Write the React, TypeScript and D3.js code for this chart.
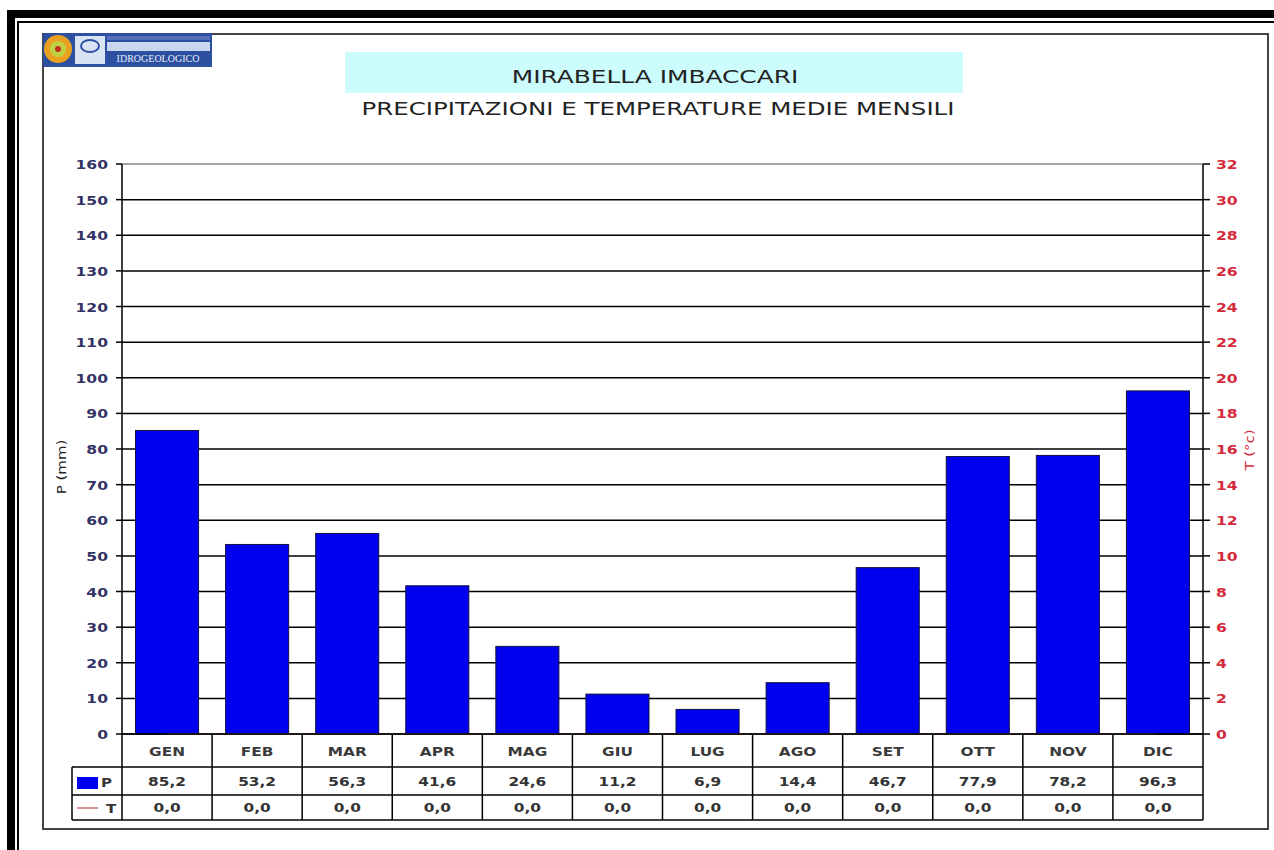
import React from "react";
import * as d3 from "d3";

const months = ["GEN", "FEB", "MAR", "APR", "MAG", "GIU", "LUG", "AGO", "SET", "OTT", "NOV", "DIC"];
const precip = [85.2, 53.2, 56.3, 41.6, 24.6, 11.2, 6.9, 14.4, 46.7, 77.9, 78.2, 96.3];
const temp = [0, 0, 0, 0, 0, 0, 0, 0, 0, 0, 0, 0];
const pTicks = d3.range(0, 161, 10);
const tTicks = d3.range(0, 33, 2);
const title = "MIRABELLA IMBACCARI";
const subtitle = "PRECIPITAZIONI E TEMPERATURE MEDIE MENSILI";

const W = 1274, H = 850;
const L = 122, R = 1203, T = 164, B = 734;
const row1 = 767, row2 = 795, row3 = 820;
const FONT = "'DejaVu Sans', Verdana, sans-serif";
const fmt = (v: number) => v.toFixed(1).replace(".", ",");

function SText({ x, y, sx = 1.2, anchor = "middle", size = 12, fill = "#222", weight = "normal", children, rotate = 0 }: any) {
  return (
    <text
      transform={`translate(${x},${y}) rotate(${rotate}) scale(${sx},1)`}
      textAnchor={anchor}
      fontSize={size}
      fontFamily={FONT}
      fill={fill}
      fontWeight={weight}
    >
      {children}
    </text>
  );
}

export default function App() {
  const x = d3.scaleBand<string>().domain(months).range([L, R]).paddingInner(0.3).paddingOuter(0.15);
  const xb = d3.scaleBand<string>().domain(months).range([L, R]);
  const yP = d3.scaleLinear().domain([0, 160]).range([B, T]);
  const yT = d3.scaleLinear().domain([0, 32]).range([B, T]);

  return (
    <svg width={W} height={H} style={{ position: "absolute", left: 0, top: 0, background: "#fff" }}>
      {/* outer frame */}
      <rect x={7} y={10} width={W - 7} height={8} fill="#000" />
      <rect x={7} y={10} width={8} height={H - 10} fill="#000" />
      <rect x={17} y={21} width={W - 17} height={2} fill="#000" />
      <rect x={17} y={21} width={2} height={H - 21} fill="#000" />
      {/* panel */}
      <rect x={43} y={34} width={1225} height={795} fill="#fff" stroke="#444" strokeWidth={2} />

      {/* logo */}
      <g>
        <rect x={43} y={33} width={169} height={34} fill="#2d4fa0" />
        <circle cx={58} cy={49} r={14} fill="#e8a020" />
        <circle cx={58} cy={49} r={8} fill="#c0d040" />
        <circle cx={58} cy={49} r={3} fill="#c03020" />
        <rect x={75} y={36} width={30} height={28} fill="#d8e4f4" />
        <ellipse cx={90} cy={46} rx={9} ry={6} fill="none" stroke="#2d4fa0" strokeWidth={2} />
        <rect x={107} y={36} width={103} height={4} fill="#5570b8" />
        <rect x={107} y={42} width={103} height={9} fill="#c8d6ee" />
        <text x={158} y={62} textAnchor="middle" fontSize={10} fontFamily="'Liberation Serif', serif" fill="#e8eef8">IDROGEOLOGICO</text>
      </g>

      {/* title */}
      <rect x={345} y={52} width={618} height={41} fill="#ccfcfc" />
      <SText x={655} y={83} size={18} sx={1.38} fill="#222">{title}</SText>
      <SText x={658} y={115} size={18} sx={1.36} fill="#222">{subtitle}</SText>

      {/* gridlines */}
      {pTicks.map((t) => (
        <line key={"g" + t} x1={L} x2={R} y1={yP(t)} y2={yP(t)} stroke={t === 160 ? "#888" : "#000"} strokeWidth={1.5} />
      ))}

      {/* bars */}
      {months.map((m, i) => (
        <rect key={m} x={x(m)} y={yP(precip[i])} width={x.bandwidth()} height={B - yP(precip[i])} fill="#0000ee" stroke="#101040" strokeWidth={1} />
      ))}

      {/* temperature line (all zero) */}
      <path
        d={d3.line<number>().x((_, i) => (xb(months[i]) as number) + xb.bandwidth() / 2).y((v) => yT(v))(temp) || ""}
        fill="none"
        stroke="#c07070"
        strokeWidth={1}
      />

      {/* axes */}
      <line x1={L} x2={L} y1={T} y2={row3} stroke="#000" strokeWidth={1.5} />
      <line x1={R} x2={R} y1={T} y2={row3} stroke="#000" strokeWidth={1.5} />
      {pTicks.map((t) => (
        <g key={"pl" + t}>
          <line x1={L - 6} x2={L} y1={yP(t)} y2={yP(t)} stroke="#000" strokeWidth={1.5} />
          <SText x={108} y={yP(t) + 5} anchor="end" size={13} sx={1.2} fill="#333366" weight="bold">{t}</SText>
        </g>
      ))}
      {tTicks.map((t) => (
        <g key={"tl" + t}>
          <line x1={R} x2={R + 7} y1={yT(t)} y2={yT(t)} stroke="#000" strokeWidth={1.5} />
          <SText x={1216} y={yT(t) + 5} anchor="start" size={13} sx={1.2} fill="#d42a3a" weight="bold">{t}</SText>
        </g>
      ))}
      <SText x={66} y={467} rotate={-90} size={13} sx={1.15} fill="#222">P (mm)</SText>
      <SText x={1254} y={450} rotate={-90} size={13} sx={1.15} fill="#d42a3a">T (°c)</SText>

      {/* data table */}
      <line x1={L} x2={R} y1={B} y2={B} stroke="#000" strokeWidth={1.5} />
      <line x1={72} x2={R} y1={row1} y2={row1} stroke="#000" strokeWidth={1.5} />
      <line x1={72} x2={R} y1={row2} y2={row2} stroke="#000" strokeWidth={1.5} />
      <line x1={72} x2={R} y1={row3} y2={row3} stroke="#000" strokeWidth={1.5} />
      <line x1={72} x2={72} y1={row1} y2={row3} stroke="#000" strokeWidth={1.5} />
      {months.map((m, i) => {
        const x0 = xb(m) as number;
        const cx = x0 + xb.bandwidth() / 2;
        return (
          <g key={"c" + m}>
            {i > 0 && <line x1={x0} x2={x0} y1={B} y2={row3} stroke="#000" strokeWidth={1.5} />}
            <SText x={cx} y={756} size={12} sx={1.28} fill="#3a3a3a" weight="bold">{m}</SText>
            <SText x={cx} y={786} size={12} sx={1.28} fill="#333" weight="bold">{fmt(precip[i])}</SText>
            <SText x={cx} y={812} size={12} sx={1.28} fill="#333" weight="bold">{fmt(temp[i])}</SText>
          </g>
        );
      })}
      {/* legend */}
      <rect x={77} y={777} width={21} height={12} fill="#0000ee" />
      <SText x={101} y={787} anchor="start" size={12} sx={1.25} fill="#333" weight="bold">P</SText>
      <line x1={77} x2={98} y1={808} y2={808} stroke="#c07070" strokeWidth={1.5} />
      <SText x={106} y={813} anchor="start" size={12} sx={1.25} fill="#333" weight="bold">T</SText>
    </svg>
  );
}
